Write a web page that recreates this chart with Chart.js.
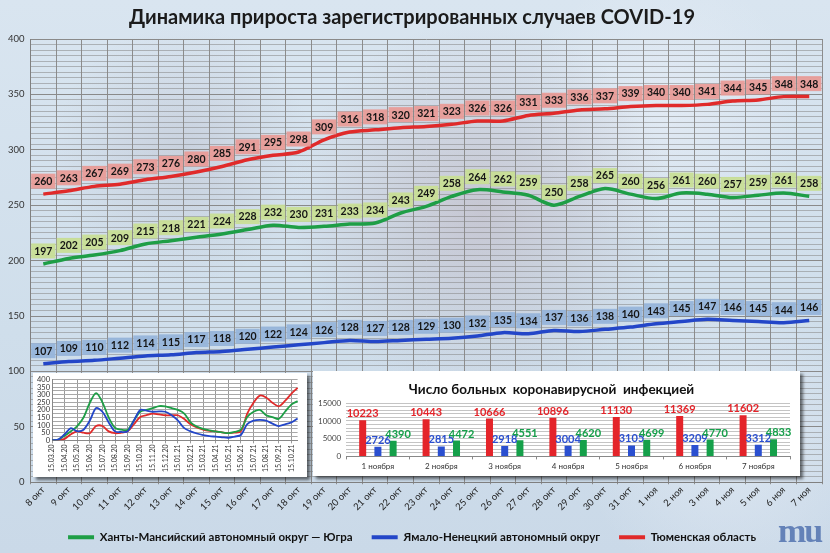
<!DOCTYPE html>
<html>
<head>
<meta charset="utf-8">
<script src="https://cdn.jsdelivr.net/npm/chart.js@4.4.0/dist/chart.umd.min.js"></script>
<style>
html, body { margin: 0; padding: 0; }
body {
  width: 830px; height: 553px; overflow: hidden; position: relative;
  background:
    radial-gradient(circle at 58% 38%, rgba(170,140,150,0.30) 0, rgba(170,140,150,0) 190px),
    radial-gradient(circle at 22% 28%, rgba(160,150,165,0.22) 0, rgba(160,150,165,0) 130px),
    radial-gradient(circle at 80% 20%, rgba(235,240,248,0.55) 0, rgba(235,240,248,0) 140px),
    radial-gradient(circle at 88% 80%, rgba(235,240,248,0.5) 0, rgba(235,240,248,0) 150px),
    linear-gradient(180deg, #d9e5f0 0%, #cfdeeb 60%, #cad9e8 100%);
}
#main { position: absolute; left: 0; top: 0; width: 830px; height: 553px; }
#inLine { position: absolute; left: 33px; top: 373px; width: 274px; height: 104px; background: #fff; box-shadow: 3px 3px 3px rgba(0,0,0,0.55); }
#inBar { position: absolute; left: 313px; top: 371px; width: 487px; height: 105px; background: #fff; box-shadow: 3px 3px 3px rgba(0,0,0,0.55); }
#logo { position: absolute; left: 778px; top: 512px; font: bold 34px "Liberation Serif"; color: #6482b8; letter-spacing: -2px; }
</style>
</head>
<body>
<div id="main"><canvas id="cMain"></canvas></div>
<div id="inLine"><canvas id="cLine"></canvas></div>
<div id="inBar"><canvas id="cBar"></canvas></div>
<div id="logo">mu</div>
<script>
// основной график: 8 окт - 7 ноя
const days = ['8 окт','9 окт','10 окт','11 окт','12 окт','13 окт','14 окт','15 окт','16 окт','17 окт','18 окт',
  '19 окт','20 окт','21 окт','22 окт','23 окт','24 окт','25 окт','26 окт','27 окт','28 окт','29 окт','30 окт','31 окт',
  '1 ноя','2 ноя','3 ноя','4 ноя','5 ноя','6 ноя','7 ноя'];
const yugra = [197,202,205,209,215,218,221,224,228,232,230,231,233,234,243,249,258,264,262,259,250,258,265,260,256,261,260,257,259,261,258];
const yamal = [107,109,110,112,114,115,117,118,120,122,124,126,128,127,128,129,130,132,135,134,137,136,138,140,143,145,147,146,145,144,146];
const tyumen = [260,263,267,269,273,276,280,285,291,295,298,309,316,318,320,321,323,326,326,331,333,336,337,339,340,340,341,344,345,348,348];

// врезка: вся пандемия
const insetDates = ['15.03.20','01.04.20','15.04.20','01.05.20','15.05.20','01.06.20','15.06.20','01.07.20','15.07.20','01.08.20',
  '15.08.20','01.09.20','15.09.20','01.10.20','15.10.20','01.11.20','15.11.20','01.12.20','15.12.20','01.01.21',
  '15.01.21','01.02.21','15.02.21','01.03.21','15.03.21','01.04.21','15.04.21','01.05.21','15.05.21','01.06.21',
  '15.06.21','01.07.21','15.07.21','01.08.21','15.08.21','01.09.21','15.09.21','01.10.21','15.10.21','01.11.21'];
const insetYugra = [0,5,30,60,94,150,247,310,250,150,82,70,70,130,188,200,212,225,223,212,200,176,118,90,75,65,59,52,47,55,70,153,188,200,165,153,141,188,235,258];
const insetYamal = [0,5,40,80,60,70,130,212,188,118,59,55,59,130,200,195,188,190,188,165,130,80,59,45,35,28,24,20,17,25,35,106,130,135,130,110,94,105,118,144];
const insetTyumen = [0,2,10,40,59,50,47,94,94,59,47,50,59,106,153,165,176,170,165,165,165,140,106,85,70,62,59,52,47,50,59,176,247,294,282,247,224,259,306,345];

// врезка: число больных
const sickDays = ['1 ноября','2 ноября','3 ноября','4 ноября','5 ноября','6 ноября','7 ноября'];
const sickTyumen = [10223,10443,10666,10896,11130,11369,11602];
const sickYamal = [2726,2815,2918,3004,3105,3209,3312];
const sickYugra = [4390,4472,4551,4620,4699,4770,4833];

const RED = '#e02a2a', GREEN = '#1e9e46', BLUE = '#2346c8';
const FONT = 'Lato';

// подписи в плашках над точками
const boxLabels = {
  id: 'boxLabels',
  afterDatasetsDraw(chart) {
    const ctx = chart.ctx;
    ctx.save();
    ctx.font = 'bold 10.5px ' + FONT;
    ctx.textAlign = 'center';
    ctx.textBaseline = 'middle';
    chart.data.datasets.forEach((ds, i) => {
      chart.getDatasetMeta(i).data.forEach((pt, j) => {
        const txt = String(ds.data[j]);
        const w = ctx.measureText(txt).width + 6;
        const cy = pt.y - 13;
        ctx.fillStyle = ds.boxColor;
        ctx.fillRect(pt.x - w / 2, cy - 7.5, w, 15);
        ctx.fillStyle = '#151515';
        ctx.fillText(txt, pt.x, cy + 0.5);
      });
    });
    ctx.restore();
  }
};

new Chart(document.getElementById('cMain'), {
  type: 'line',
  data: {
    labels: days,
    datasets: [
      { label: 'Ханты-Мансийский автономный округ — Югра', data: yugra, borderColor: GREEN, backgroundColor: GREEN, boxColor: 'rgba(200,222,150,0.95)', borderWidth: 3.5, pointRadius: 0, tension: 0.3 },
      { label: 'Ямало-Ненецкий автономный округ', data: yamal, borderColor: BLUE, backgroundColor: BLUE, boxColor: 'rgba(150,180,218,0.95)', borderWidth: 3.5, pointRadius: 0, tension: 0.3 },
      { label: 'Тюменская область', data: tyumen, borderColor: RED, backgroundColor: RED, boxColor: 'rgba(232,156,152,0.95)', borderWidth: 3.5, pointRadius: 0, tension: 0.3 }
    ]
  },
  options: {
    responsive: true,
    maintainAspectRatio: false,
    animation: false,
    layout: { padding: { left: 2, right: 8, top: 2, bottom: 0 } },
    plugins: {
      title: { display: true, text: 'Динамика прироста зарегистрированных случаев COVID-19', color: '#1b1b1b',
        font: { family: FONT, size: 20, weight: 'bold' }, padding: { top: 4, bottom: 9 } },
      legend: {
        position: 'bottom',
        labels: {
          color: '#111', font: { family: FONT, size: 11.5, weight: 'bold' },
          boxWidth: 26, boxHeight: 4, padding: 19,
          generateLabels: (chart) => Chart.defaults.plugins.legend.labels.generateLabels(chart).map(l => ({ ...l, lineWidth: 0, fillStyle: l.strokeStyle }))
        }
      },
      tooltip: { enabled: false }
    },
    scales: {
      x: {
        offset: true,
        grid: { offset: true, color: '#8c8c8c', tickLength: 2 },
        border: { color: '#808080' },
        ticks: { autoSkip: false, maxRotation: 45, minRotation: 45, color: '#222', font: { family: FONT, size: 9.5 }, padding: 0 }
      },
      y: {
        min: 0, max: 400,
        grid: { color: (c) => c.tick && c.tick.value % 50 === 0 ? '#8a8a8a' : 'rgba(135,135,135,0.55)', drawTicks: false },
        border: { color: '#808080' },
        ticks: { stepSize: 5, autoSkip: false, padding: 6, color: '#333', font: { family: FONT, size: 9.5 },
          callback: (v) => v % 50 === 0 ? v : '' }
      }
    }
  },
  plugins: [boxLabels]
});

// маленький график за весь период
new Chart(document.getElementById('cLine'), {
  type: 'line',
  data: {
    labels: insetDates,
    datasets: [
      { data: insetYamal, borderColor: BLUE, borderWidth: 1.8, pointRadius: 0, tension: 0.3 },
      { data: insetYugra, borderColor: GREEN, borderWidth: 1.8, pointRadius: 0, tension: 0.3 },
      { data: insetTyumen, borderColor: RED, borderWidth: 1.8, pointRadius: 0, tension: 0.3 }
    ]
  },
  options: {
    responsive: true,
    maintainAspectRatio: false,
    animation: false,
    layout: { padding: { left: 2, right: 5, top: 5, bottom: 4 } },
    plugins: { legend: { display: false }, tooltip: { enabled: false } },
    scales: {
      x: {
        grid: { color: (c) => c.index % 2 === 0 ? '#9a9a9a' : 'rgba(0,0,0,0)', tickLength: 3 },
        border: { color: '#888' },
        ticks: { autoSkip: false, maxRotation: 90, minRotation: 90, color: '#333', font: { family: FONT, size: 7 }, padding: 1,
          callback: (v, i) => i % 2 === 0 ? insetDates[i] : '' }
      },
      y: {
        min: 0, max: 400,
        grid: { color: '#a8a8a8', drawTicks: false },
        border: { color: '#888' },
        ticks: { stepSize: 25, autoSkip: false, padding: 2, color: '#333', font: { family: FONT, size: 7.5 },
          callback: (v) => v % 50 === 0 ? v : '' }
      }
    }
  }
});

// столбики: число больных
const barLabels = {
  id: 'barLabels',
  afterDatasetsDraw(chart) {
    const ctx = chart.ctx;
    ctx.save();
    ctx.font = 'bold 11px ' + FONT;
    ctx.textAlign = 'center';
    ctx.textBaseline = 'bottom';
    chart.data.datasets.forEach((ds, i) => {
      chart.getDatasetMeta(i).data.forEach((bar, j) => {
        ctx.fillStyle = ds.backgroundColor;
        ctx.fillText(String(ds.data[j]), bar.x + (i === 2 ? 5 : 0), bar.y - 1);
      });
    });
    ctx.restore();
  }
};

new Chart(document.getElementById('cBar'), {
  type: 'bar',
  data: {
    labels: sickDays,
    datasets: [
      { data: sickTyumen, backgroundColor: '#e4242a' },
      { data: sickYamal, backgroundColor: '#2a4fd0' },
      { data: sickYugra, backgroundColor: '#15a04a' }
    ]
  },
  options: {
    responsive: true,
    maintainAspectRatio: false,
    animation: false,
    layout: { padding: { left: 0, right: 10, top: 0, bottom: 3 } },
    datasets: { bar: { categoryPercentage: 0.72, barPercentage: 0.46 } },
    plugins: {
      legend: { display: false }, tooltip: { enabled: false },
      title: { display: true, text: 'Число больных  коронавирусной  инфекцией', color: '#111',
        font: { family: FONT, size: 13.5, weight: 'bold' }, padding: { top: 11, bottom: 5 } }
    },
    scales: {
      x: {
        grid: { drawOnChartArea: false, color: '#888', tickLength: 3 },
        border: { color: '#888' },
        ticks: { color: '#333', font: { family: FONT, size: 8 }, padding: 2 }
      },
      y: {
        min: 0, max: 15000,
        grid: { color: '#c4c4c4', drawTicks: false },
        border: { display: false },
        ticks: { stepSize: 1000, autoSkip: false, padding: 5, color: '#444', font: { family: FONT, size: 8 },
          callback: (v) => v % 5000 === 0 ? v : '' }
      }
    }
  },
  plugins: [barLabels]
});
</script>
</body>
</html>
